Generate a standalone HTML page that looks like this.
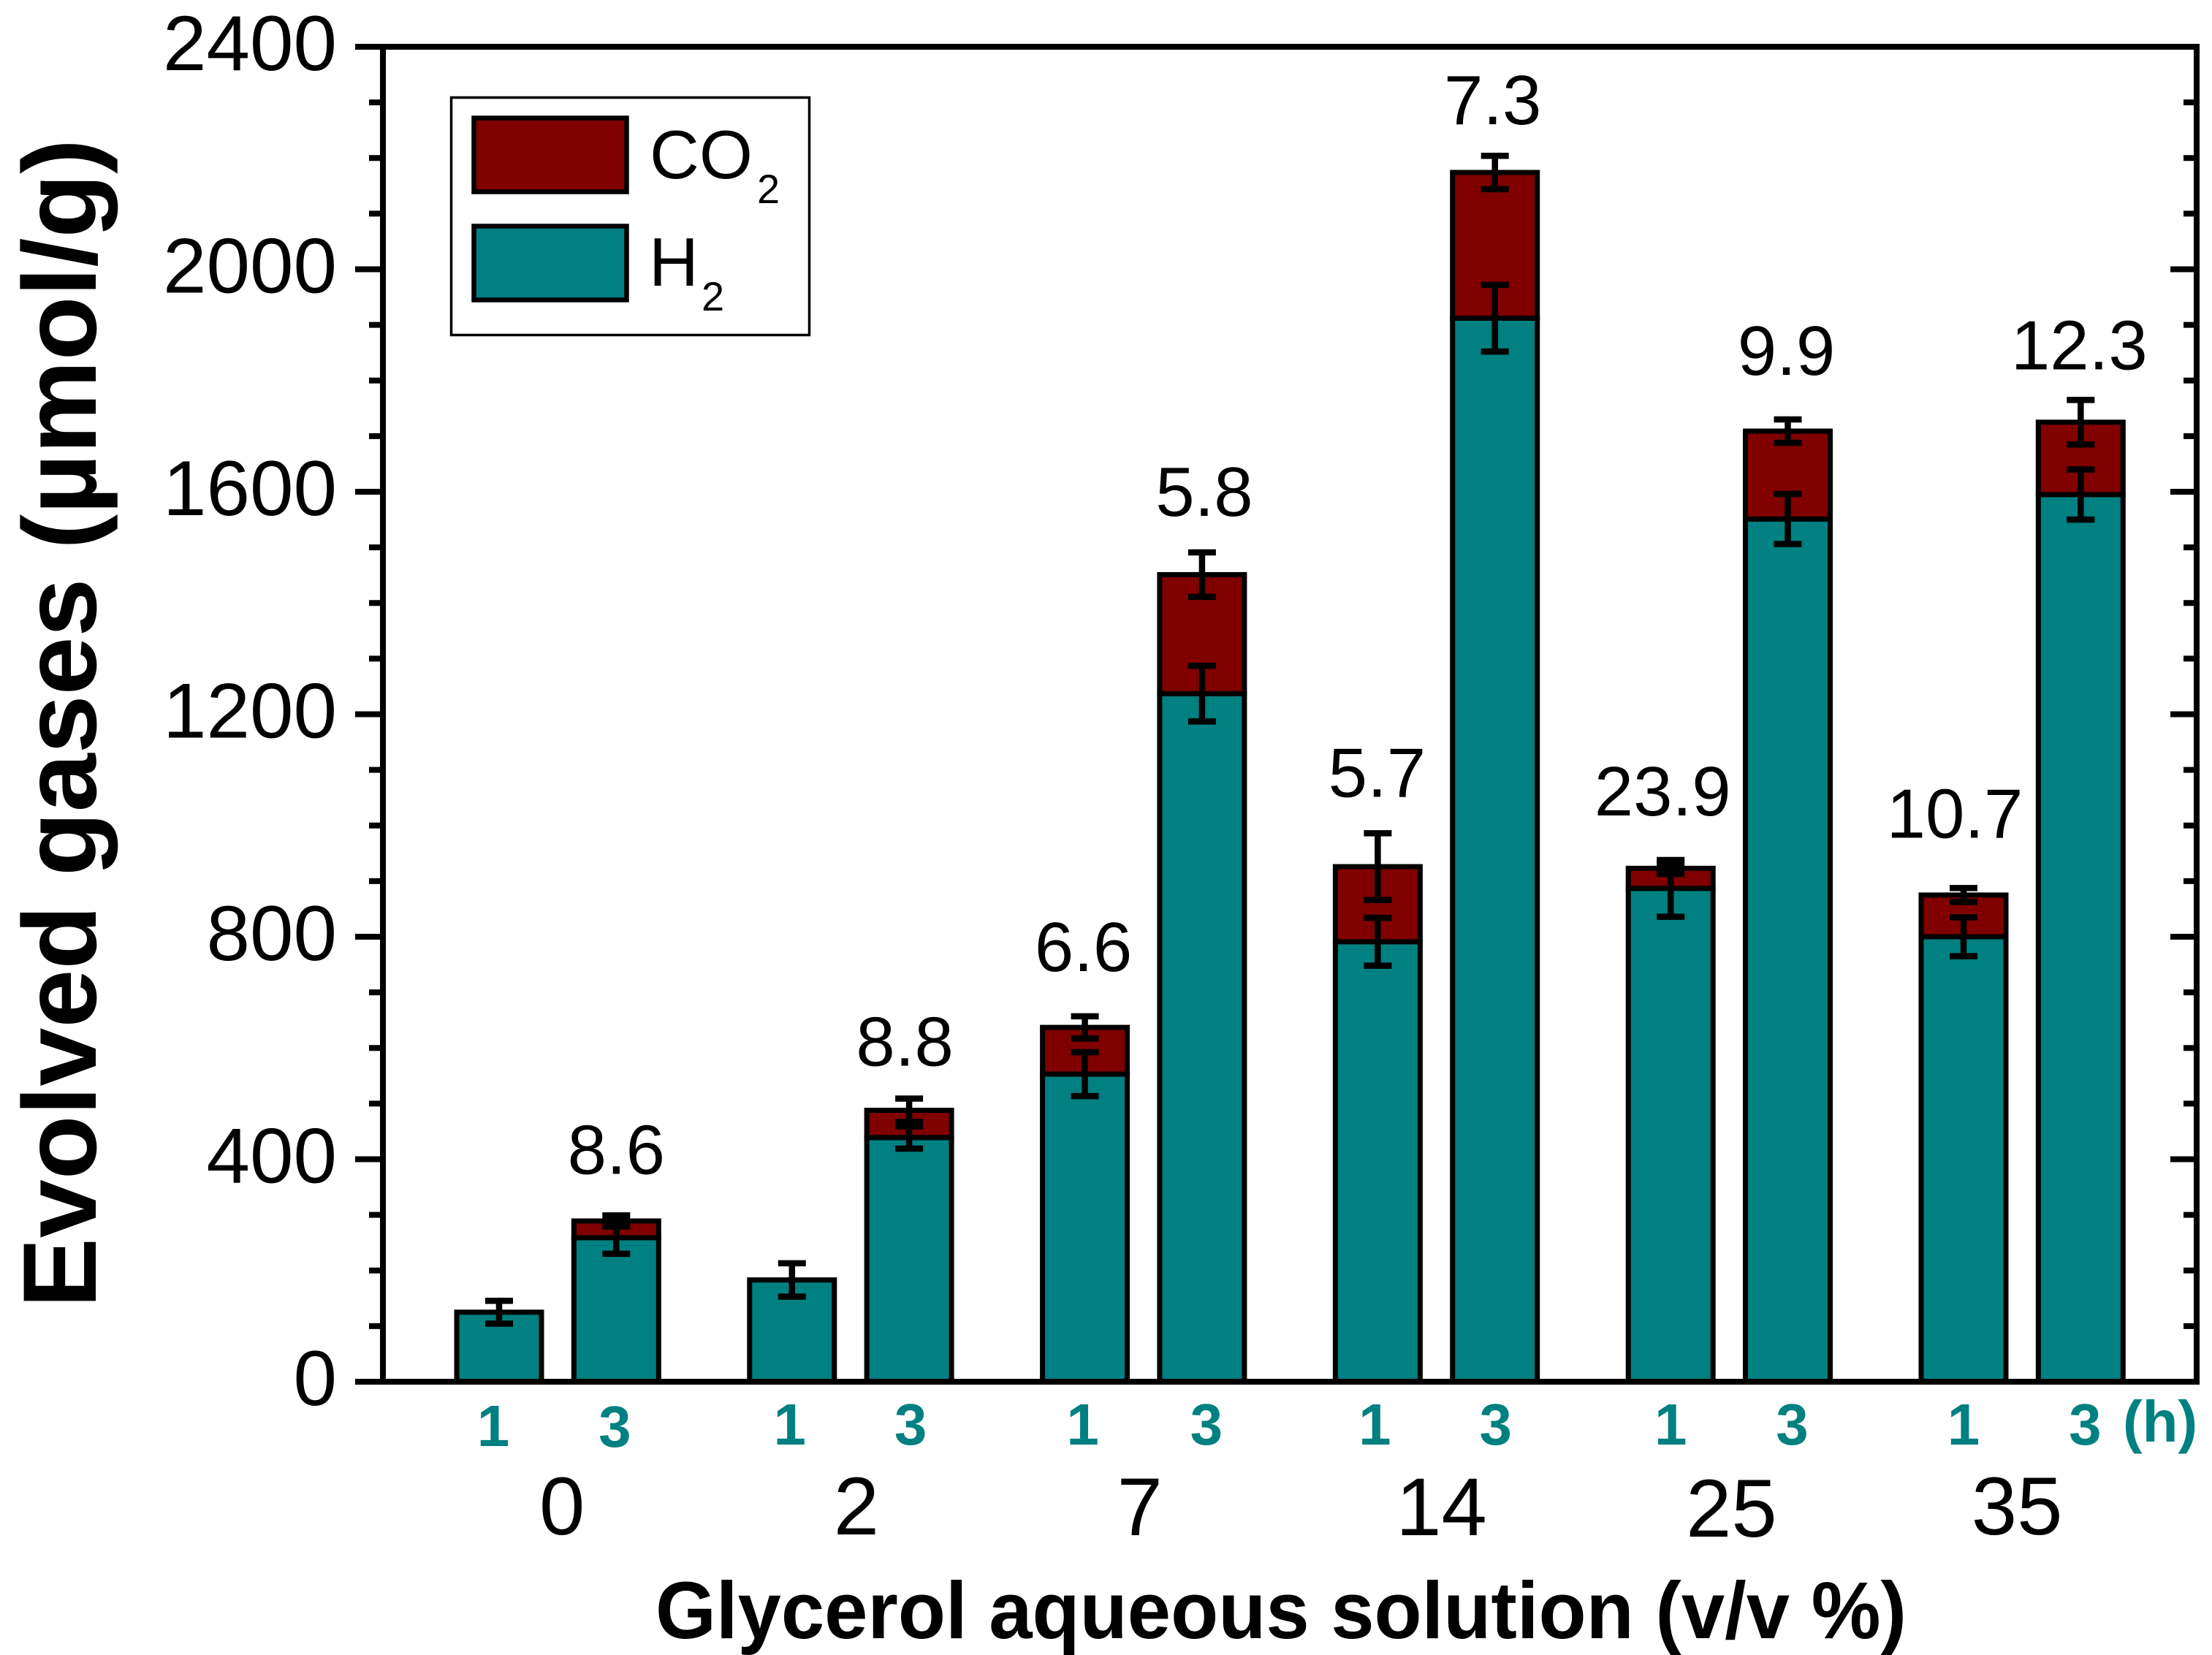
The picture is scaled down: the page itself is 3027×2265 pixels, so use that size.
<!DOCTYPE html>
<html lang="en">
<head>
<meta charset="utf-8">
<title>Evolved gases chart</title>
<style>
  html, body { margin: 0; padding: 0; background: #fff; }
  svg { display: block; }
  text { font-family: "Liberation Sans", Arial, sans-serif; fill: #000; }
</style>
</head>
<body>
<svg id="chart" xmlns="http://www.w3.org/2000/svg" width="3027" height="2265" viewBox="0 0 3027 2265">
  <rect x="0" y="0" width="3027" height="2265" fill="#ffffff"/>
  <g id="bars"></g>
  <g id="errors"></g>
  <g id="axes"></g>
  <g id="labels"></g>

  <g>
    <rect x="617.5" y="133.5" width="490" height="325" fill="#fff" stroke="#000" stroke-width="3.5"/>
    <rect x="648.5" y="161.5" width="209" height="101" fill="#800000" stroke="#000" stroke-width="6.5"/>
    <text x="889" y="244" font-size="94">CO<tspan x="1036" y="278" font-size="56">2</tspan></text>
    <rect x="648.5" y="309.5" width="209" height="101" fill="#008080" stroke="#000" stroke-width="6.5"/>
    <text x="888" y="391" font-size="94">H<tspan x="960" y="425" font-size="56">2</tspan></text>
  </g>

  <text transform="translate(131,1790) rotate(-90)" font-size="143" font-weight="700" textLength="1600" lengthAdjust="spacingAndGlyphs">Evolved gases (µmol/g)</text>
  <text x="897" y="2242" font-size="110" font-weight="700" textLength="1712" lengthAdjust="spacingAndGlyphs">Glycerol aqueous solution (v/v %)</text>
  <text x="2905" y="1973" font-size="80" font-weight="700" style="fill:#008080">(h)</text>
</svg>
<script>
// ---- chart data (one entry per bar: 1 h and 3 h for each glycerol level) ----
const categories = ['0', '2', '7', '14', '25', '35'];
const hours = ['1', '3'];
const h2Values = [125, 259, 183, 439, 553, 1237, 791, 1912, 887, 1551, 800, 1595];
const co2Values = [0, 30, 0, 49, 84, 214, 135, 262, 36, 158, 75, 130];
const h2Errors = [20.5, 29, 30, 20, 39.5, 50, 43, 60, 51, 45, 35, 45];
const co2Errors = [0, 10, 0, 21, 20, 40, 60, 30, 10, 21, 12.5, 40];
const printedValues = ['', '8.6', '', '8.8', '6.6', '5.8', '5.7', '7.3', '23.9', '9.9', '10.7', '12.3'];
const yTickLabels = [0, 400, 800, 1200, 1600, 2000, 2400];
const yMinorTicks = [100, 200, 300, 500, 600, 700, 900, 1000, 1100, 1300, 1400, 1500, 1700, 1800, 1900, 2100, 2200, 2300];

// ---- hand-placement nudges (pixels), matching the reference's manually set labels ----
const valueLabelLift = [0, 57, 0, 45, 62, 50, 50, 43, 65, 61, 69, 42];
const valueLabelShift = [0, 0, 0, -6, -2, 3, -1, -3, -11, -2, -12, -2];
const categoryShift = [6, 8, -5, 7, 3, -7];
const categoryBaselineShift = [0, 0, 1, 1, 3, 0];
const hourShift = [-8, -2, -3, 2, -3, 6, -4, 1, 0, 6, 0, 6];
const hourBaselineShift = [2, 3, 0, 0, 0, 0, 0, 0, 0, 0, 0, 0];

// ---- axis functions ----
const plot = { left: 524, right: 3006, top: 64, bottom: 1891 };
const yMax = 2400;
const yScale = v => plot.bottom - (v / yMax) * (plot.bottom - plot.top);
const groupOrigin = 683, groupStep = 400.8, hourFraction = 0.4;
const xScale = i => groupOrigin + groupStep * (Math.floor(i / 2) + (i % 2) * hourFraction);
const barWidth = 116;
const STROKE = 7;

const NS = 'http://www.w3.org/2000/svg';
function make(tag, parent, attrs) {
  const el = document.createElementNS(NS, tag);
  for (const k in attrs) el.setAttribute(k, attrs[k]);
  parent.appendChild(el);
  return el;
}

const barsG = document.getElementById('bars');
const errorsG = document.getElementById('errors');
const axesG = document.getElementById('axes');
const labelsG = document.getElementById('labels');

// ---- stacked bars ----
h2Values.forEach((h2, i) => {
  const cx = xScale(i);
  const h2Top = yScale(h2);
  const h2Rect = make('rect', barsG, {
    x: cx - barWidth / 2, y: h2Top, width: barWidth, height: plot.bottom - h2Top,
    fill: '#008080', stroke: '#000', 'stroke-width': STROKE
  });
  
  
  if (co2Values[i] > 0) {
    const total = h2 + co2Values[i];
    const co2Rect = make('rect', barsG, {
      x: cx - barWidth / 2, y: yScale(total), width: barWidth, height: yScale(h2) - yScale(total),
      fill: '#800000', stroke: '#000', 'stroke-width': STROKE
    });
    
    
  }
});

// ---- error bars ----
function errorBar(cx, center, err, name) {
  const g = make('g', errorsG, { stroke: '#000', fill: 'none' });
  
  
  const yHi = yScale(center + err), yLo = yScale(center - err);
  make('line', g, { x1: cx, x2: cx, y1: yHi, y2: yLo, 'stroke-width': 8.5 });
  make('line', g, { x1: cx - 19, x2: cx + 19, y1: yHi, y2: yHi, 'stroke-width': 8.5 });
  make('line', g, { x1: cx - 19, x2: cx + 19, y1: yLo, y2: yLo, 'stroke-width': 8.5 });
}
h2Values.forEach((h2, i) => {
  const cx = xScale(i);
  errorBar(cx, h2, h2Errors[i], 'h2-error-bar-' + i);
  if (co2Values[i] > 0) errorBar(cx, h2 + co2Values[i], co2Errors[i], 'co2-error-bar-' + i);
});

// ---- printed values above bars ----
printedValues.forEach((txt, i) => {
  if (!txt) return;
  const total = h2Values[i] + co2Values[i];
  const t = make('text', labelsG, {
    x: xScale(i) + valueLabelShift[i],
    y: yScale(total + co2Errors[i]) - valueLabelLift[i],
    'font-size': 96, 'text-anchor': 'middle'
  });
  
  
  t.textContent = txt;
});

// ---- axes frame ----
const frame = [
  [plot.left - 38, plot.top, plot.right + 4, plot.top, 'top-axis-line'],
  [plot.left - 38, plot.bottom, plot.right + 4, plot.bottom, 'bottom-axis-line'],
  [plot.left, plot.top, plot.left, plot.bottom, 'left-axis-line'],
  [plot.right, plot.top, plot.right, plot.bottom, 'right-axis-line']
];
frame.forEach(f => {
  const l = make('line', axesG, { x1: f[0], y1: f[1], x2: f[2], y2: f[3], stroke: '#000', 'stroke-width': 8 });
  
  
});

// ---- y ticks ----
yTickLabels.forEach(v => {
  const y = yScale(v);
  const left = make('line', axesG, { x1: plot.left - 38, x2: plot.left, y1: y, y2: y, stroke: '#000', 'stroke-width': 8 });
  
  
  const right = make('line', axesG, { x1: plot.right - 36, x2: plot.right, y1: y, y2: y, stroke: '#000', 'stroke-width': 8 });
  
  
  const t = make('text', axesG, { x: 461, y: y + 32, 'font-size': 107, 'text-anchor': 'end' });
  
  
  t.textContent = v;
});
yMinorTicks.forEach(v => {
  const y = yScale(v);
  const left = make('line', axesG, { x1: plot.left - 19, x2: plot.left, y1: y, y2: y, stroke: '#000', 'stroke-width': 8 });
  
  
  const right = make('line', axesG, { x1: plot.right - 18, x2: plot.right, y1: y, y2: y, stroke: '#000', 'stroke-width': 8 });
  
  
});

// ---- hour labels and category labels ----
categories.forEach((cat, g) => {
  hours.forEach((h, k) => {
    const i = g * 2 + k;
    const t = make('text', axesG, {
      x: xScale(i) + hourShift[i], y: 1977 + hourBaselineShift[i],
      'font-size': 80, 'font-weight': 700, 'text-anchor': 'middle', style: 'fill:#008080'
    });
    
    
    t.textContent = h;
  });
  const mid = (xScale(g * 2) + xScale(g * 2 + 1)) / 2;
  const c = make('text', axesG, {
    x: mid + categoryShift[g], y: 2100 + categoryBaselineShift[g],
    'font-size': 112, 'text-anchor': 'middle'
  });
  
  
  c.textContent = cat;
});
</script>
</body>
</html>
